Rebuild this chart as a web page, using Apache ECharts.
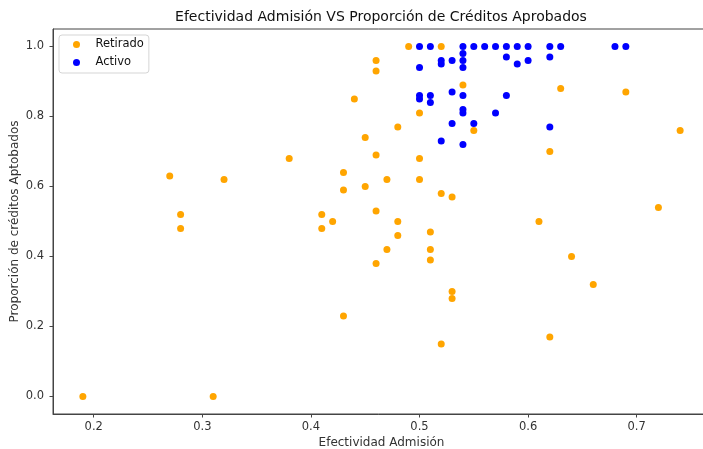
<!DOCTYPE html>
<html>
<head>
<meta charset="utf-8">
<script src="https://cdn.jsdelivr.net/npm/echarts@6/dist/echarts.min.js"></script>
<style>html,body{margin:0;padding:0;background:#fff}#c{width:703px;height:449px}</style>
</head>
<body>
<div id="c"></div>
<script>
// Retirado (orange) points: [efectividad, proporción]
const retiradoX = [0.19,0.31,0.27,0.28,0.28,0.32,0.38,0.41,0.41,0.42,0.43,0.43,0.43,0.44,0.45,0.45,0.46,0.46,0.46,0.46,0.46,0.47,0.47,0.48,0.48,0.48,0.49,0.50,0.50,0.50,0.51,0.51,0.51,0.52,0.52,0.52,0.53,0.53,0.53,0.54,0.55,0.61,0.62,0.62,0.63,0.64,0.66,0.69,0.72,0.74];
const retiradoY = [0.00,0.00,0.63,0.52,0.48,0.62,0.68,0.52,0.48,0.50,0.64,0.59,0.23,0.85,0.74,0.60,0.96,0.93,0.69,0.53,0.38,0.62,0.42,0.77,0.50,0.46,1.00,0.81,0.68,0.62,0.47,0.42,0.39,1.00,0.58,0.15,0.57,0.30,0.28,0.89,0.76,0.50,0.70,0.17,0.88,0.40,0.32,0.87,0.54,0.76];
// Activo (blue) points
const activoX = [0.50,0.51,0.54,0.55,0.56,0.57,0.58,0.59,0.60,0.62,0.63,0.68,0.69,0.54,0.58,0.62,0.52,0.52,0.53,0.54,0.60,0.59,0.54,0.50,0.50,0.50,0.51,0.51,0.53,0.54,0.58,0.54,0.54,0.57,0.53,0.55,0.62,0.52,0.54];
const activoY = [1.00,1.00,1.00,1.00,1.00,1.00,1.00,1.00,1.00,1.00,1.00,1.00,1.00,0.98,0.97,0.97,0.96,0.95,0.96,0.96,0.96,0.95,0.94,0.94,0.86,0.85,0.86,0.84,0.87,0.86,0.86,0.82,0.81,0.81,0.78,0.78,0.77,0.73,0.72];
const xTicks = [0.2,0.3,0.4,0.5,0.6,0.7];
const yTicks = [0.0,0.2,0.4,0.6,0.8,1.0];
const seriesNames = ['Retirado','Activo'];
const titleText = 'Efectividad Admisión VS Proporción de Créditos Aprobados';
const xName = 'Efectividad Admisión';
const yName = 'Proporción de créditos Aptobados';

const zip = (xs, ys) => xs.map((x, i) => [x, ys[i]]);
const font = 'DejaVu Sans';
const axisColor = '#444';
const textColor = '#333';

const chart = echarts.init(document.getElementById('c'), null, {renderer: 'canvas'});
chart.setOption({
  animation: false,
  backgroundColor: '#fff',
  title: {
    text: titleText, left: 381, top: 10, textAlign: 'center', padding: 0,
    textStyle: {fontFamily: font, fontSize: 14, fontWeight: 'normal', color: '#111'}
  },
  legend: {
    orient: 'vertical', left: 59, top: 35,
    data: seriesNames,
    icon: 'circle', itemWidth: 28, itemHeight: 7, itemGap: 5,
    padding: [3, 5, 4, 14],
    backgroundColor: 'rgba(255,255,255,0.8)', borderColor: '#d5d5d5', borderWidth: 1, borderRadius: 3,
    textStyle: {fontFamily: font, fontSize: 11.5, color: '#111', lineHeight: 13, padding: [0,0,0,0]}
  },
  grid: {left: 53, top: 29, width: 657, height: 385, show: true, borderColor: axisColor, borderWidth: 1,
    outerBoundsMode: 'none', containLabel: false},
  xAxis: {
    type: 'value', min: 0.1625, max: 0.7675,
    name: xName, nameLocation: 'middle', nameGap: 23, nameMoveOverlap: false,
    nameTextStyle: {fontFamily: font, fontSize: 12, color: textColor},
    axisLine: {show: true, onZero: false, lineStyle: {color: axisColor, width: 1}},
    axisTick: {show: true, length: 3.5, lineStyle: {color: axisColor}, customValues: xTicks},
    axisLabel: {fontFamily: font, fontSize: 11.5, color: textColor, margin: 7, customValues: xTicks,
      formatter: v => v.toFixed(1)},
    splitLine: {show: false}
  },
  yAxis: {
    type: 'value', min: -0.05, max: 1.05,
    name: yName, nameLocation: 'middle', nameGap: 32, nameRotate: 90, nameMoveOverlap: false,
    nameTextStyle: {fontFamily: font, fontSize: 12, color: textColor},
    axisLine: {show: true, onZero: false, lineStyle: {color: axisColor, width: 1}},
    axisTick: {show: true, length: 3.5, lineStyle: {color: axisColor}, customValues: yTicks},
    axisLabel: {fontFamily: font, fontSize: 11.5, color: textColor, margin: 9, customValues: yTicks,
      formatter: v => v.toFixed(1)},
    splitLine: {show: false}
  },
  series: [
    {name: seriesNames[0], type: 'scatter', symbolSize: 7, data: zip(retiradoX, retiradoY),
     itemStyle: {color: '#FFA500', opacity: 1}},
    {name: seriesNames[1], type: 'scatter', symbolSize: 7, data: zip(activoX, activoY),
     itemStyle: {color: '#0000FF', opacity: 1}}
  ]
});
</script>
</body>
</html>
